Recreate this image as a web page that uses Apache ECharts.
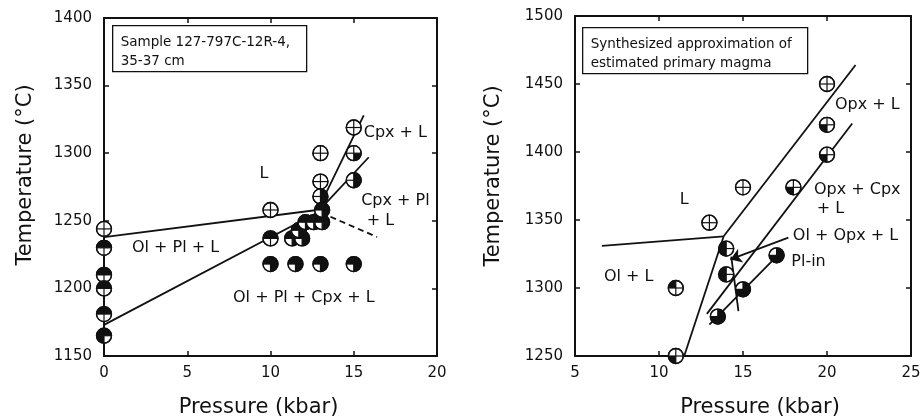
<!DOCTYPE html>
<html><head><meta charset="utf-8">
<script src="https://cdn.jsdelivr.net/npm/echarts@6/dist/echarts.min.js"></script>
<style>html,body{margin:0;padding:0;background:#fff}#c{width:921px;height:418px}</style>
</head><body><div id="c"></div>
<script>
// ---------------- data ----------------
// Left panel: Sample 127-797C-12R-4, 35-37 cm
const leftXTicks = [0, 5, 10, 15, 20];
const leftYTicks = [1150, 1200, 1250, 1300, 1350, 1400];
// experimental run products [pressure kbar, temperature °C], grouped by phase-fill pattern
const leftOpen        = [[0,1244],[10,1258],[13,1300],[13,1279],[15,1319]];
const leftTopHalf     = [[0,1230],[0,1210],[0,1200],[0,1181],[10,1237]];
const leftThreeTop    = [[0,1165]];
const leftRightHalf   = [[13,1268],[15,1280]];
const leftQuarterBR   = [[15,1300]];
const leftThreeNoBL   = [[11.3,1237],[11.9,1237],[11.7,1243],[12.1,1249],[12.6,1249],[13.1,1249],[13.1,1258],[10,1218],[11.5,1218],[13,1218],[15,1218]];
// phase boundaries
const leftLineLiquidus = [[0,1238],[12.8,1258]];
const leftLineCpxIn    = [[0,1173],[12.8,1256]];
const leftLineCpxL     = [[12.8,1257],[15.6,1328]];
const leftLineCpxPl    = [[12.8,1256],[15.9,1297]];
const leftLineDashed   = [[13.6,1253],[16.4,1238]];
const leftLabels = [[9.6,1285,'L'],[4.3,1230,'Ol + Pl + L'],[12,1193,'Ol + Pl + Cpx + L'],[17.5,1315,'Cpx + L'],[17.5,1265,'Cpx + Pl'],[16.6,1250,'+ L']];
const leftNote = ['Sample 127-797C-12R-4,', '35-37 cm'];

// Right panel: synthesized approximation of estimated primary magma
const rightXTicks = [5, 10, 15, 20, 25];
const rightYTicks = [1250, 1300, 1350, 1400, 1450, 1500];
const rightOpen       = [[20,1450],[15,1374],[13,1348]];
const rightQuarterBL  = [[20,1420],[20,1398],[18,1374],[11,1250]];
const rightQuarterTL  = [[11,1300]];
const rightLeftHalf   = [[14,1329],[14,1310]];
const rightThreeNoTL  = [[15,1299],[13.5,1279],[17,1324]];
const rightLineOlL    = [[6.6,1331],[13.85,1338]];
const rightLineSteep  = [[11.5,1250],[13.85,1338]];
const rightLineOpxL   = [[13.85,1338],[21.7,1464]];
const rightLineOpxCpx = [[12.85,1281],[21.5,1421]];
const rightLinePlIn   = [[13.0,1273],[17.06,1324]];
const rightLineShort  = [[14.3,1323],[14.73,1283]];
const rightArrow      = [[17.7,1337],[14.25,1321]];
const rightLabels = [[11.5,1365,'L'],[8.2,1308,'Ol + L'],[22.4,1435,'Opx + L'],[21.8,1372,'Opx + Cpx'],[20.2,1358,'+ L'],[21.1,1338,'Ol + Opx + L'],[18.9,1319,'Pl-in']];
const rightNote = ['Synthesized approximation of', 'estimated primary magma'];

// ---------------- styling / building ----------------
const INK = '#111';
const FONT = 'DejaVu Sans';
const Q = {TR:[-Math.PI/2,0], BR:[0,Math.PI/2], BL:[Math.PI/2,Math.PI], TL:[Math.PI,Math.PI*1.5]};

function markerSeries(data, quads, xi, yi) {
  return {
    type: 'custom', xAxisIndex: xi, yAxisIndex: yi, clip: false, z: 5,
    encode: {x: 0, y: 1},
    data: data,
    renderItem: function (params, api) {
      const p = api.coord([api.value(0), api.value(1)]);
      const r = 7.5;
      const ch = [{type:'circle', shape:{cx:p[0], cy:p[1], r:r}, style:{fill:'#fff', stroke:INK, lineWidth:1.3}}];
      quads.forEach(function (q) {
        ch.push({type:'sector', shape:{cx:p[0], cy:p[1], r0:0, r:r, startAngle:Q[q][0], endAngle:Q[q][1], clockwise:true}, style:{fill:INK}});
      });
      ch.push({type:'line', shape:{x1:p[0]-r, y1:p[1], x2:p[0]+r, y2:p[1]}, style:{stroke:INK, lineWidth:1.2}});
      ch.push({type:'line', shape:{x1:p[0], y1:p[1]-r, x2:p[0], y2:p[1]+r}, style:{stroke:INK, lineWidth:1.2}});
      ch.push({type:'circle', shape:{cx:p[0], cy:p[1], r:r}, style:{fill:null, stroke:INK, lineWidth:1.3}});
      return {type:'group', children: ch};
    }
  };
}
function lineSeries(data, xi, yi, dashed) {
  return {type:'line', xAxisIndex:xi, yAxisIndex:yi, data:data, symbol:'none', z:3, clip:false,
    lineStyle:{color:INK, width:1.8, type: dashed ? [6,4] : 'solid'}, silent:true, animation:false};
}
function labelSeries(labels, xi, yi) {
  return {type:'custom', xAxisIndex:xi, yAxisIndex:yi, clip:false, z:6, silent:true,
    encode:{x:0, y:1},
    data: labels.map(function (l) { return {value:[l[0], l[1]], name:l[2]}; }),
    renderItem: function (params, api) {
      const p = api.coord([api.value(0), api.value(1)]);
      return {type:'text', x:p[0], y:p[1], style:{text: labels[params.dataIndex][2], fill:INK,
        font:'16px "DejaVu Sans"', align:'center', verticalAlign:'middle'}};
    }};
}
function axisPair(gi, ticks, isY, nameText, nameGap, namePad) {
  const base = {
    gridIndex: gi, type:'value', min: ticks[0], max: ticks[ticks.length-1], interval: ticks[1]-ticks[0],
    axisLine:{show:true, onZero:false, lineStyle:{color:INK, width:2}},
    axisTick:{show:true, inside:true, length:5, lineStyle:{color:INK, width:1.5}},
    splitLine:{show:false}
  };
  const main = Object.assign({}, base, {
    position: isY ? 'left' : 'bottom',
    axisLabel:{show:true, color:INK, fontFamily:FONT, fontSize:15, margin: isY ? 12 : 10,
      formatter: function (v) { return String(v); }},
    name: nameText, nameLocation:'middle', nameGap: nameGap,
    nameTextStyle:{color:INK, fontFamily:FONT, fontSize:21, padding: namePad}
  });
  const mirror = Object.assign({}, base, {position: isY ? 'right' : 'top', axisLabel:{show:false}});
  return [main, mirror];
}

const xL = axisPair(0, leftXTicks, false, 'Pressure (kbar)', 41, [0,24,0,0]);
const yL = axisPair(0, leftYTicks, true, 'Temperature (°C)', 68, [0,0,0,24]);
const xR = axisPair(1, rightXTicks, false, 'Pressure (kbar)', 41, [0,0,0,34]);
const yR = axisPair(1, rightYTicks, true, 'Temperature (°C)', 71, [0,0,0,20]);

function noteBox(x, y, w, h, lines) {
  return {type:'group', left:x, top:y, children:[
    {type:'rect', shape:{x:0, y:0, width:w, height:h}, style:{fill:'#fff', stroke:INK, lineWidth:1.3}},
    {type:'text', x:8, y:7, style:{text:lines.join('\n'), fill:INK, font:'13.5px "DejaVu Sans"', lineHeight:19}}
  ]};
}

const option = {
  animation:false,
  backgroundColor:'#fff',
  grid:[{left:104, top:18, width:333, height:338, outerBoundsMode:'none', containLabel:false},
        {left:575, top:16, width:336, height:340, outerBoundsMode:'none', containLabel:false}],
  xAxis:[xL[0], xL[1], xR[0], xR[1]],
  yAxis:[yL[0], yL[1], yR[0], yR[1]],
  graphic:[noteBox(112, 25, 194, 46, leftNote), noteBox(582, 27, 225, 46, rightNote)],
  series:[
    lineSeries(leftLineLiquidus,0,0), lineSeries(leftLineCpxIn,0,0), lineSeries(leftLineCpxL,0,0),
    lineSeries(leftLineCpxPl,0,0), lineSeries(leftLineDashed,0,0,true),
    markerSeries(leftOpen, [], 0, 0),
    markerSeries(leftTopHalf, ['TL','TR'], 0, 0),
    markerSeries(leftThreeTop, ['TL','TR','BL'], 0, 0),
    markerSeries(leftRightHalf, ['TR','BR'], 0, 0),
    markerSeries(leftQuarterBR, ['BR'], 0, 0),
    markerSeries(leftThreeNoBL, ['TL','TR','BR'], 0, 0),
    labelSeries(leftLabels, 0, 0),

    lineSeries(rightLineOlL,2,2), lineSeries(rightLineSteep,2,2), lineSeries(rightLineOpxL,2,2),
    lineSeries(rightLineOpxCpx,2,2), lineSeries(rightLinePlIn,2,2), lineSeries(rightLineShort,2,2),
    {type:'lines', coordinateSystem:'cartesian2d', xAxisIndex:2, yAxisIndex:2, z:6, silent:true,
      symbol:['none','arrow'], symbolSize:11,
      lineStyle:{color:INK, width:1.8, opacity:1},
      data:[{coords: rightArrow}]},
    markerSeries(rightOpen, [], 2, 2),
    markerSeries(rightQuarterBL, ['BL'], 2, 2),
    markerSeries(rightQuarterTL, ['TL'], 2, 2),
    markerSeries(rightLeftHalf, ['TL','BL'], 2, 2),
    markerSeries(rightThreeNoTL, ['TR','BL','BR'], 2, 2),
    labelSeries(rightLabels, 2, 2)
  ]
};
echarts.init(document.getElementById('c')).setOption(option);
</script>
</body></html>
